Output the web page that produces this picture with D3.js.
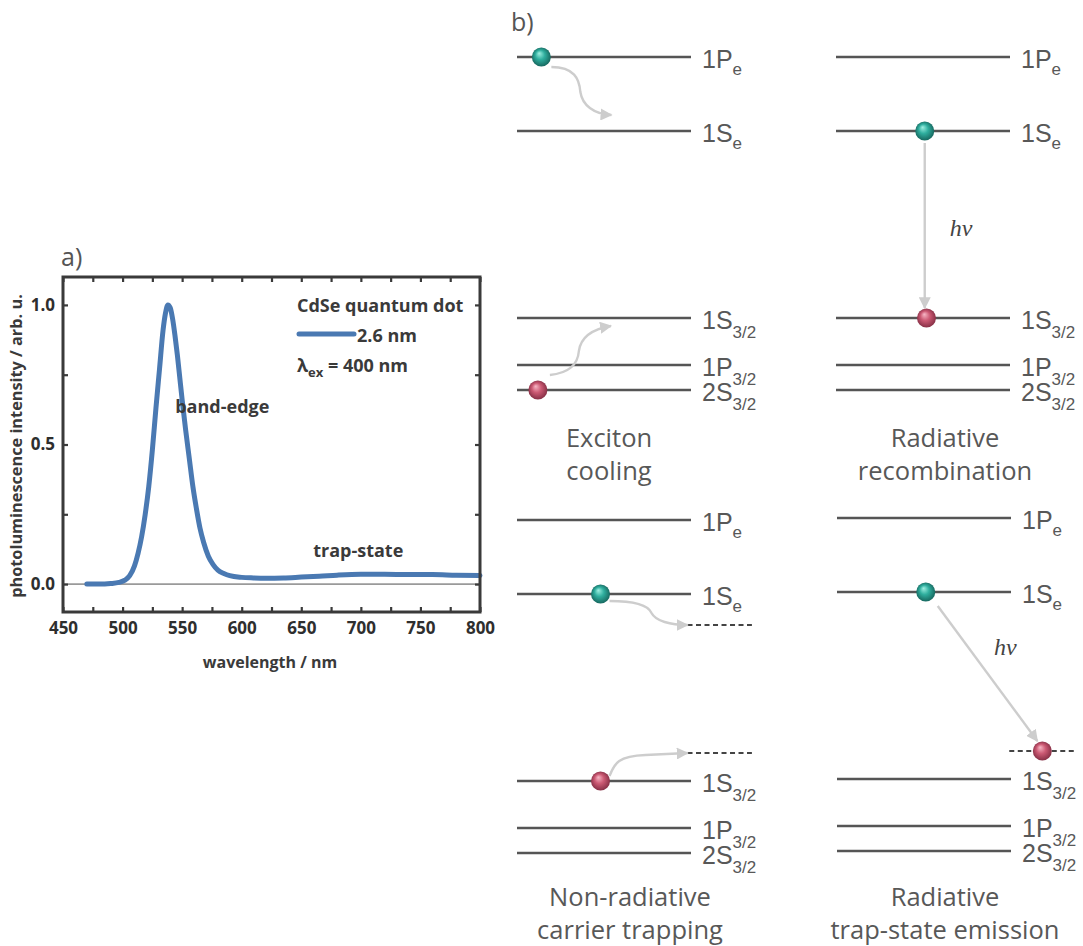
<!DOCTYPE html>
<html>
<head>
<meta charset="utf-8">
<script src="https://cdn.jsdelivr.net/npm/d3@7/dist/d3.min.js"></script>
<style>
  html, body { margin: 0; padding: 0; background: #fff; }
  svg { display: block; }
</style>
</head>
<body>
<svg id="chart" width="1083" height="946"></svg>
<script>
// ---------------- DATA ----------------
// Panel a) PL spectrum of 2.6 nm CdSe quantum dots (λex = 400 nm)
const wavelength = [470, 480, 490, 497, 502, 506, 510, 513, 516, 519, 522, 525, 528, 531, 534, 536, 538, 540, 542, 544, 546, 548, 550, 553, 556, 559, 562, 565, 568, 572, 576, 580, 585, 590, 600, 610, 620, 635, 650, 665, 680, 700, 720, 740, 760, 780, 800];
const intensity  = [0.0, 0.0, 0.002, 0.006, 0.014, 0.03, 0.065, 0.11, 0.17, 0.25, 0.35, 0.48, 0.63, 0.77, 0.91, 0.97, 1.0, 0.99, 0.95, 0.89, 0.82, 0.74, 0.66, 0.55, 0.45, 0.35, 0.27, 0.2, 0.15, 0.1, 0.07, 0.05, 0.038, 0.03, 0.024, 0.022, 0.021, 0.022, 0.025, 0.028, 0.032, 0.035, 0.035, 0.034, 0.034, 0.032, 0.031];
const xTicks = [450, 500, 550, 600, 650, 700, 750, 800];
const yTicks = [0.0, 0.5, 1.0];
const legendTitle = "CdSe quantum dot";
const seriesName = "2.6 nm";
const annotations = ["band-edge", "trap-state"];

// Panel b) schematic energy levels (arbitrary energy units)
const levelNames = ["1P", "1S", "1S", "1P", "2S"];
const levelSubs  = ["e", "e", "3/2", "3/2", "3/2"];
const levelEnergy = [3.33, 2.59, 0.72, 0.25, 0.0];
const trapNames = ["electron trap", "hole trap"];
const trapEnergy = [2.28, 1.0];
const processTitles = [["Exciton", "cooling"], ["Radiative", "recombination"], ["Non-radiative", "carrier trapping"], ["Radiative", "trap-state emission"]];
// carrier positions: [energy, horizontal fraction along level]
const electronPos = [[3.33, 0.14], [2.59, 0.51], [2.59, 0.48], [2.59, 0.51]];
const holePos     = [[0.0, 0.12], [0.72, 0.52], [0.72, 0.48], [1.0, 1.18]];

// ---------------- DRAW ----------------
const svg = d3.select("#chart");
const defs = svg.append("defs");

function ballGrad(id, c0, c1, c2) {
  const g = defs.append("radialGradient").attr("id", id)
    .attr("cx", "0.5").attr("cy", "0.5").attr("r", "0.55")
    .attr("fx", "0.38").attr("fy", "0.3");
  g.append("stop").attr("offset", "0%").attr("stop-color", c0);
  g.append("stop").attr("offset", "45%").attr("stop-color", c1);
  g.append("stop").attr("offset", "100%").attr("stop-color", c2);
}
ballGrad("gElectron", "#9ff0e2", "#2fae9e", "#145f57");
ballGrad("gHole", "#f7b7c5", "#cc5a74", "#7e2a40");

defs.append("marker").attr("id", "arrow").attr("viewBox", "0 0 10 10")
  .attr("refX", 9).attr("refY", 5).attr("markerWidth", 5).attr("markerHeight", 5)
  .attr("markerUnits", "strokeWidth").attr("orient", "auto")
  .append("path").attr("d", "M0,0 L10,5 L0,10 z").attr("fill", "#cdcdcd");

// ===== Panel a =====
const A = {left: 63, right: 480, top: 277, bottom: 612};
const x = d3.scaleLinear().domain([450, 800]).range([A.left, A.right]);
const y = d3.scaleLinear().domain([-0.1, 1.1]).range([A.bottom, A.top]);
const fontA = "'Open Sans', 'Noto Sans', sans-serif";
const darkA = "#2e2e2e";

svg.append("text").attr("x", 61).attr("y", 266).text("a)")
  .attr("font-family", fontA).attr("font-size", 25).attr("fill", "#555");

// zero line
svg.append("line").attr("x1", A.left).attr("x2", A.right)
  .attr("y1", y(0)).attr("y2", y(0)).attr("stroke", "#9a9a9a").attr("stroke-width", 1.6);

// spectrum
const line = d3.line().x((d, i) => x(wavelength[i])).y(d => y(d)).curve(d3.curveMonotoneX);
svg.append("path").datum(intensity).attr("d", line)
  .attr("fill", "none").attr("stroke", "#4a79b2").attr("stroke-width", 5)
  .attr("stroke-linecap", "round").attr("stroke-linejoin", "round");

// axes
const xMinor = d3.range(450, 801, 25);
const yMinor = [0, 0.25, 0.5, 0.75, 1.0];
function styleAxis(g) {
  g.select(".domain").remove();
  g.selectAll(".tick line").attr("stroke", "#3a3a3a").attr("stroke-width", 2.2);
  g.selectAll(".tick text").attr("font-family", fontA).attr("font-weight", 700)
    .attr("font-size", 17).attr("fill", darkA);
}
svg.append("g").attr("transform", `translate(0,${A.bottom})`)
  .call(d3.axisBottom(x).tickValues(xMinor).tickSizeInner(-5).tickSizeOuter(0).tickPadding(10)
    .tickFormat(d => xTicks.includes(d) ? d3.format("d")(d) : ""))
  .call(styleAxis);
svg.append("g").attr("transform", `translate(0,${A.top})`)
  .call(d3.axisTop(x).tickValues(xMinor).tickSizeInner(-5).tickSizeOuter(0).tickFormat(""))
  .call(styleAxis);
svg.append("g").attr("transform", `translate(${A.left},0)`)
  .call(d3.axisLeft(y).tickValues(yMinor).tickSizeInner(-5).tickSizeOuter(0).tickPadding(8)
    .tickFormat(d => yTicks.includes(d) ? d3.format(".1f")(d) : ""))
  .call(styleAxis);
svg.append("g").attr("transform", `translate(${A.right},0)`)
  .call(d3.axisRight(y).tickValues(yMinor).tickSizeInner(-5).tickSizeOuter(0).tickFormat(""))
  .call(styleAxis);

svg.append("rect").attr("x", A.left).attr("y", A.top)
  .attr("width", A.right - A.left).attr("height", A.bottom - A.top)
  .attr("fill", "none").attr("stroke", "#3a3a3a").attr("stroke-width", 3);

svg.append("text").attr("x", 270).attr("y", 668)
  .attr("text-anchor", "middle").text("wavelength / nm")
  .attr("font-family", fontA).attr("font-weight", 700).attr("font-size", 16).attr("fill", "#3a3a3a");
svg.append("text").attr("transform", `translate(22,${446}) rotate(-90)`)
  .attr("text-anchor", "middle").text("photoluminescence intensity / arb. u.")
  .attr("font-family", fontA).attr("font-weight", 700).attr("font-size", 16.3).attr("fill", "#3a3a3a");

// legend
const lg = svg.append("g").attr("font-family", fontA).attr("font-weight", 700)
  .attr("font-size", 18).attr("fill", "#3a3a3a");
lg.append("text").attr("x", 297).attr("y", 312).text(legendTitle);
lg.append("line").attr("x1", 299).attr("x2", 354).attr("y1", 334).attr("y2", 334)
  .attr("stroke", "#4a79b2").attr("stroke-width", 5).attr("stroke-linecap", "round");
lg.append("text").attr("x", 357).attr("y", 342).text(seriesName);
const lam = lg.append("text").attr("x", 297).attr("y", 372);
lam.append("tspan").text("λ");
lam.append("tspan").attr("font-size", 13).attr("dy", 5).text("ex");
lam.append("tspan").attr("dy", -5).text(" = 400 nm");

lg.append("text").attr("x", x(540) + 5).attr("y", 413).text(annotations[0]);
lg.append("text").attr("x", x(660) + 0).attr("y", 557).text(annotations[1]);

// ===== Panel b =====
const fontB = "'Liberation Sans', Arial, sans-serif";
const fontC = "'Open Sans', 'Noto Sans', sans-serif";
const labelColor = "#585858";
svg.append("text").attr("x", 511).attr("y", 31).text("b)")
  .attr("font-family", fontA).attr("font-size", 25).attr("fill", "#555");

const panels = [
  {x0: 517, x1: 691, yTop: 57, capX: 609, capY: 447},
  {x0: 836, x1: 1010, yTop: 57, capX: 945, capY: 447},
  {x0: 517, x1: 691, yTop: 520, capX: 630, capY: 906},
  {x0: 837, x1: 1011, yTop: 518, capX: 945, capY: 906}
];

panels.forEach((p, pi) => {
  const ey = d3.scaleLinear().domain([3.33, 0]).range([p.yTop, p.yTop + 333]);
  const ex = d3.scaleLinear().domain([0, 1]).range([p.x0, p.x1]);
  const g = svg.append("g");
  // levels
  levelEnergy.forEach((E, i) => {
    g.append("line").attr("x1", p.x0).attr("x2", p.x1).attr("y1", ey(E)).attr("y2", ey(E))
      .attr("stroke", "#555").attr("stroke-width", 2.4);
    const t = g.append("text").attr("x", p.x1 + 11).attr("y", ey(E) + 11)
      .attr("font-family", fontB).attr("font-size", 25).attr("fill", labelColor);
    t.append("tspan").text(levelNames[i]);
    t.append("tspan").attr("font-size", 17).attr("dy", levelSubs[i] === "e" ? 7 : 9).text(levelSubs[i]);
  });
  // captions
  processTitles[pi].forEach((s, k) => {
    g.append("text").attr("x", p.capX).attr("y", p.capY + k * 33)
      .attr("text-anchor", "middle").text(s)
      .attr("font-family", fontC).attr("font-size", 25.5).attr("fill", labelColor);
  });
  const eX = ex(electronPos[pi][1]), eY = ey(electronPos[pi][0]);
  const hX = ex(holePos[pi][1]), hY = ey(holePos[pi][0]);
  const arrowStyle = sel => sel.attr("fill", "none").attr("stroke", "#cdcdcd")
    .attr("stroke-width", 2.4).attr("marker-end", "url(#arrow)");

  if (pi === 0) {
    g.append("path").attr("d", `M${eX + 10},${eY + 10} C${eX + 33},${eY + 10} ${eX + 38},${eY + 22} ${eX + 39},${eY + 35} C${eX + 41},${eY + 48} ${eX + 52},${eY + 57} ${eX + 70},${eY + 58}`).call(arrowStyle);
    g.append("path").attr("d", `M${hX + 12},${hY - 15} C${hX + 32},${hY - 17} ${hX + 40},${hY - 26} ${hX + 41},${hY - 39} C${hX + 43},${hY - 53} ${hX + 55},${hY - 61} ${hX + 73},${hY - 64}`).call(arrowStyle);
  }
  if (pi === 1) {
    g.append("line").attr("x1", eX).attr("y1", eY + 12).attr("x2", eX).attr("y2", hY - 10).call(arrowStyle);
    g.append("text").attr("x", eX + 25).attr("y", 236).text("hν")
      .attr("font-family", "'Liberation Serif', 'DejaVu Serif', serif").attr("font-style", "italic")
      .attr("font-size", 24).attr("fill", "#444");
  }
  if (pi >= 2) {
    const tx0 = pi === 2 ? ex(0.98) : ex(0.99);
    const tx1 = pi === 2 ? ex(1.35) : ex(1.38);
    if (pi === 2) {
      [trapEnergy[0], trapEnergy[1]].forEach(E => {
        g.append("line").attr("x1", tx0).attr("x2", tx1).attr("y1", ey(E)).attr("y2", ey(E))
          .attr("stroke", "#444").attr("stroke-width", 1.8).attr("stroke-dasharray", "5,3.5");
      });
      g.append("path").attr("d", `M${eX + 9},${eY + 7} C${eX + 35},${eY + 7} ${eX + 48},${eY + 12} ${eX + 51},${eY + 19} C${eX + 55},${eY + 27} ${eX + 70},${ey(trapEnergy[0])} ${tx0},${ey(trapEnergy[0])}`).call(arrowStyle);
      g.append("path").attr("d", `M${hX + 9},${hY - 5} C${hX + 14},${hY - 18} ${hX + 18},${hY - 25} ${hX + 45},${hY - 26} L${tx0},${ey(trapEnergy[1])}`).call(arrowStyle);
    } else {
      g.append("line").attr("x1", tx0).attr("x2", tx1).attr("y1", ey(trapEnergy[1])).attr("y2", ey(trapEnergy[1]))
        .attr("stroke", "#444").attr("stroke-width", 1.8).attr("stroke-dasharray", "5,3.5");
      g.append("line").attr("x1", eX + 12).attr("y1", eY + 14).attr("x2", hX - 5).attr("y2", hY - 10).call(arrowStyle);
      g.append("text").attr("x", 994).attr("y", 655).text("hν")
        .attr("font-family", "'Liberation Serif', 'DejaVu Serif', serif").attr("font-style", "italic")
        .attr("font-size", 24).attr("fill", "#444");
    }
  }
  g.append("circle").attr("cx", eX).attr("cy", eY).attr("r", 9.5).attr("fill", "url(#gElectron)");
  g.append("circle").attr("cx", hX).attr("cy", hY).attr("r", 9.5).attr("fill", "url(#gHole)");
});
</script>
</body>
</html>
